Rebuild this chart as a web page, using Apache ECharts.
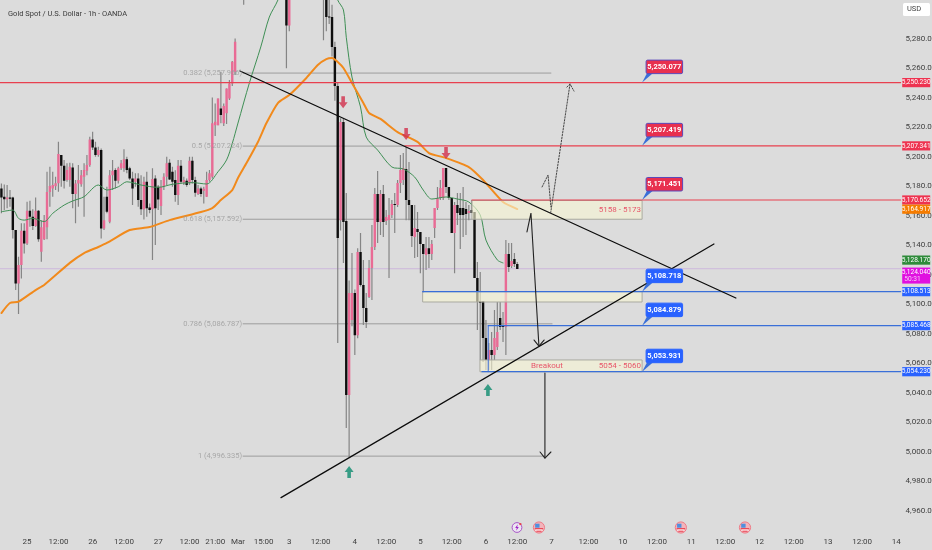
<!DOCTYPE html>
<html><head><meta charset="utf-8">
<style>html,body{margin:0;padding:0;background:#dcdcdc}#c{width:932px;height:550px}</style>
<script src="https://cdn.jsdelivr.net/npm/echarts@6/dist/echarts.min.js"></script>
</head><body><div id="c"></div>
<script>
var titleText = 'Gold Spot / U.S. Dollar - 1h - OANDA';
var xTickLabels = ['25','12:00','26','12:00','27','12:00','21:00','Mar','15:00','3','12:00','4','12:00','5','12:00','6','12:00','7','12:00','10','12:00','11','12:00','12','12:00','13','12:00','14'];
var xTickSlots = [9,20,32,43,55,66,75,83,92,101,112,124,135,147,158,170,181,193,206,218,230,242,254,266,278,290,302,314];
var slotCount = 316;
// open, high, low, close
var ohlc = [
[5178.5,5181.9,5161.6,5172.4],[5172.9,5181.2,5163.8,5171.1],[5171.1,5180.8,5165,5172.4],[5172.4,5177.4,5166.1,5171.5],
[5172.4,5172.9,5144.6,5150.3],[5150.3,5150.3,5109.6,5114.1],[5114.1,5132.2,5093.3,5126.5],[5126.5,5154.8,5117.5,5149.8],
[5149.8,5154.8,5134.4,5141.2],[5141.2,5169.5,5140.1,5163.4],[5163.4,5170.1,5152.5,5159.3],[5159.3,5164.3,5150.3,5153],
[5153,5172.4,5152.5,5163.4],[5163.4,5163.8,5142.4,5144],[5135.6,5157,5128.8,5152.1],[5144,5160.4,5143.5,5157],
[5152.1,5189.8,5144,5176],[5176,5193.2,5166.1,5180.1],[5178.5,5189.8,5172.9,5180.8],[5180,5186.4,5177.4,5182],
[5182,5210.2,5176.3,5201.8],[5201.1,5201.1,5179.6,5193.9],[5193.9,5197.7,5178.5,5183.7],[5184.2,5195.5,5183,5191],
[5184.2,5195.9,5179.6,5193.2],[5192.7,5195.5,5165,5174.7],[5174.7,5184.2,5154.8,5181.9],[5181.9,5194.3,5166.1,5184.2],
[5181.4,5191,5179.6,5187.5],[5186.4,5195.5,5159.3,5191],[5190.5,5201.1,5187.5,5194.3],[5194.3,5213.5,5193.2,5211.7],
[5211.7,5217,5204.5,5206.3],[5206.3,5210.2,5200,5201.1],[5201.1,5206.8,5200,5204.5],[5204.5,5205.6,5144.6,5151.4],
[5151.4,5172.9,5150.3,5157],[5172.9,5179.6,5161.6,5162.7],[5155.9,5191,5154.8,5187.5],[5187.5,5197.7,5177.4,5190.5],
[5191,5192.1,5178.5,5183.7],[5183.7,5193.2,5181.9,5192.1],[5192.1,5197.7,5191,5195.5],[5192.1,5205,5189.8,5198.2],
[5198.2,5200,5188.7,5191],[5192.1,5193.2,5184.2,5185.3],[5185.3,5189.8,5167.2,5178.5],[5183,5188.7,5179.6,5185.3],
[5185.3,5188.7,5166.1,5170.6],[5170.6,5187.5,5160.4,5164.3],[5164.3,5186.4,5157.5,5183],[5183,5189.8,5159.3,5165],
[5165.6,5168.3,5161.6,5163.8],[5164.3,5192.1,5130,5184.8],[5185.3,5187.5,5140.1,5165],[5179.6,5180.8,5163.8,5171],
[5166.5,5184.2,5160.4,5179.6],[5179.6,5188.7,5177.4,5186.4],[5186.4,5200,5180.8,5195.5],[5195.9,5198.2,5184.2,5184.6],
[5189.8,5193.2,5179.6,5183],[5184.2,5190.9,5169.5,5174],[5174,5197.7,5167.2,5193.9],[5193.9,5197.7,5181.9,5183],
[5182.4,5186.4,5180.8,5184.2],[5183.7,5185.3,5179.6,5180.8],[5182.4,5200,5180.8,5197.3],[5197.3,5200,5181.9,5184.2],
[5184.2,5186.4,5172.9,5175.6],[5174.7,5180.8,5174,5178.5],[5178.5,5179.6,5172.9,5174.7],[5177,5179.6,5168.3,5178.3],
[5172.9,5189.8,5172.9,5184.2],[5184.2,5191,5183,5188.7],[5186.4,5240.2,5185.3,5222.6],[5221.4,5236.1,5214,5223.7],
[5221.4,5239.5,5221.4,5239.5],[5232.7,5257.6,5222.6,5228.2],[5222.6,5236.1,5220.8,5234.3],[5229.4,5246.3,5222.1,5246.3],
[5239.5,5252,5238.4,5249.7],[5249.7,5264.8,5247.9,5264.4],[5257.6,5280.2,5255.4,5278],
[5325,5345,5312,5340],[5340,5350,5320,5330],[5330,5342,5303,5322],[5322,5350,5315,5345],[5345,5380,5340,5370],
[5370,5395,5360,5385],[5385,5410,5375,5400],[5400,5420,5385,5395],[5395,5405,5370,5380],[5380,5400,5365,5390],
[5390,5395,5350,5360],[5360,5385,5350,5375],[5375,5390,5340,5350],[5350,5370,5335,5345],[5345,5360,5325,5330],
[5330,5350,5315,5320],[5320,5340,5310,5315],[5315,5325,5260,5289],[5289,5330,5285,5325],
[5325,5345,5315,5340],[5340,5365,5330,5350],[5350,5372,5338,5345],[5345,5360,5325,5330],[5330,5365,5322,5360],
[5360,5385,5350,5375],[5375,5390,5345,5350],[5350,5368,5335,5360],[5360,5372,5330,5340],[5340,5355,5320,5345],[5345,5350,5318,5325],
[5325,5345,5279,5312],[5312,5335,5285,5294.7],[5295,5310,5290,5294.7],[5294.7,5303,5268,5274.4],[5274.4,5278,5238,5247.9],
[5247.9,5250,5073.7,5144.8],[5157,5226,5150,5223.5],[5223.5,5226,5128,5155.7],[5156.4,5175.4,5016,5038.4],[5038.4,5116,4996.4,5107.6],
[5089.3,5134.7,5085,5107.6],[5107.6,5110,5065.5,5079],[5079,5138,5077,5135.4],[5135.4,5148.2,5112,5113],[5113,5130,5085.9,5097.4],
[5097.4,5107.6,5083.9,5088],[5104.9,5130,5104.2,5124.5],[5124.5,5153.7,5102.8,5138.8],[5138.8,5178.8,5136.7,5174.7],[5174.7,5190.3,5141.5,5155.7],
[5155.7,5177.4,5147,5174.7],[5174.7,5180.8,5145.6,5155.7],[5156.4,5163.8,5153.7,5159.1],[5157.1,5172,5117.7,5160.5],[5160.5,5170.6,5158.4,5168],
[5168,5175.4,5148.2,5167.2],[5167.2,5184.2,5165.9,5182.2],[5182.2,5201.1,5175.4,5191],[5184.2,5202.5,5180.8,5192.3],[5191.7,5206.6,5157,5170.6],
[5170.6,5196.4,5157,5167.2],[5167.2,5167.2,5138.8,5146.2],[5145.5,5167.2,5131.3,5151.7],[5151,5162.5,5132,5149],[5149,5149,5121,5140.8],
[5140.8,5140.8,5107.6,5134],[5133.3,5145.5,5123.2,5138],[5138,5145.5,5124.5,5134],[5134,5143.5,5130,5140.8],[5151.7,5165.2,5144.9,5165.2],
[5165.2,5179.5,5163.8,5172],[5172,5184.2,5170.6,5178.8],[5172,5192.3,5170.6,5192.3],[5192.3,5192.3,5175.4,5179.5],[5179.5,5179.5,5170.6,5172],
[5172,5172,5148.2,5148.2],[5148.2,5169.3,5121,5167.2],[5167.2,5175.4,5153.7,5161.8],[5165.2,5175.4,5137.4,5160.5],[5165.2,5179.5,5145.6,5160.5],
[5164.5,5169.3,5147,5161.1],[5161.8,5167.2,5157,5163.2],[5163.9,5170.6,5161.8,5161.8],[5162.5,5162.5,5117.8,5117.8],[5117.8,5128.6,5082.5,5101.5],
[5102.2,5121.8,5062.2,5100.8],[5102.2,5102.2,5060.8,5077.1],[5077.1,5089.3,5055.4,5062.2],[5062.2,5073.7,5055.4,5068.9],[5068.9,5081.1,5055.4,5065.5],
[5065.5,5096,5062.2,5077.1],[5071,5101.5,5068.9,5081.1],[5090.6,5101.5,5082.5,5084.5],[5085.9,5094.7,5074.4,5084.5],[5084.5,5143.5,5065.5,5134],
[5134,5141.5,5121.8,5125.2],[5125.9,5141.5,5124.5,5129.3],[5130.6,5134.7,5125.2,5127.2],[5127.2,5128.6,5123.8,5123.8]
];
// moving averages: [bar slot, price]
var orangeMA = [[0,5094],[3,5100.8],[6,5101.7],[12,5109.6],[15,5113],[24,5128],[29,5134.7],[34,5138.8],[37,5141.5],[45,5150.3],[52,5152.3],[59,5157],[70,5162.5],[74,5165.2],[77,5170.6],[81,5177.4],[83,5185.6],[86,5195.7],[90,5210],[93,5222.8],[97,5236.4],[101,5241.8],[107,5253.4],[111,5262.2],[114,5266.2],[116,5266.9],[118,5264.2],[120,5260.1],[123,5250],[127,5236.4],[129,5229.6],[133,5225.6],[139,5216.7],[146,5210],[150,5202.5],[156,5199.1],[164,5193],[169,5184.2],[176,5169.3],[181,5164.5]];
var greenMA = [[0,5162.7],[4,5163.8],[6,5158.2],[8,5157],[11,5158.2],[15,5156],[18,5161.6],[22,5167.2],[25,5170],[29,5172.9],[34,5180.8],[37,5177.4],[41,5179.6],[44,5183],[49,5180.8],[55,5179.2],[60,5181.3],[67,5182.4],[72,5181.5],[76,5189.8],[79,5197.8],[81,5209],[83,5222.8],[87,5250],[91,5274.4],[94,5294.7],[97,5306.2],[100,5325],[105,5345],[110,5340],[115,5325],[118,5306.2],[120,5299.5],[121,5281],[123,5254],[126,5233.7],[128,5213.3],[132,5204.5],[137,5193],[141,5191.7],[145,5186.2],[148,5177.4],[151,5171.3],[156,5172.7],[160,5171.3],[164,5169.3],[168,5160.5],[170,5143.5],[174,5130],[176,5128]];
// drawings: [bar units, price]
var trendLines = [[[84.2,5258.1],[258.2,5104.2]],[[98.6,4968.9],[250.5,5140.8]]];
var arrowLines = [[[184.9,5149],[186.3,5161.8],[189.1,5071.6]],[[187.4,5075.7],[189.1,5071.6],[190.9,5075.7]],[[191.2,5053.3],[191.2,4995.7]],[[189.5,4999.8],[191.2,4995.7],[193.3,4999.8]]];
var dottedLines = [[[193.2,5161.8],[200,5249.3]],[[198.9,5247.2],[200,5249.3],[201.4,5244.5]],[[190.2,5179.5],[192.3,5187.6],[193.3,5165.9]]];
var redLevels = [[0,5250.23],[142.1,5207.341],[165.6,5170.652]];
var blueLevels = [[148.3,5108.513],[171.3,5085.468],[169.1,5054.23]];
var currentPrice = 5124.04;
var fibLevels = [['0.382 (5,257.966)',5256.7,193.3],['0.5 (5,207.224)',5207.2,142.1],['0.618 (5,157.592)',5157.6,165.6],['0.786 (5,086.787)',5086.7,193.7],['1 (4,996.335)',4997,191.2]];
var zones = [[165.6,5170.3,225.3,5157.6],[148.3,5108.5,225.3,5101.5],[168.4,5062.2,225.3,5054.2]];
var zoneTexts = [['5158 - 5173',224.9,5163.8],['5054 - 5060',224.9,5058.1]];
var breakoutText = ['Breakout',191.9,5058.1];
var callouts = [['5,250.077',5250.23,'r'],['5,207.419',5207.341,'r'],['5,171.451',5170.652,'r'],['5,108.718',5108.513,'b'],['5,084.879',5085.468,'b'],['5,053.931',5054.23,'b']];
var calloutBar = 225.3;
var priceTags = [['5,250.230',5250.23,'#ee3350'],['5,207.341',5207.341,'#ee3350'],['5,170.652',5170.652,'#ee3350'],['5,164.917',5164.4,'#f57c00'],['5,128.170',5129.9,'#2e8b3a'],['5,108.513',5108.513,'#2962ff'],['5,085.468',5085.468,'#2962ff'],['5,054.230',5054.23,'#2962ff']];
var magentaTag = ['5,124.040','50:31',5119.4];
var downMarks = [[120.4,5237],[142.5,5215.4],[156.5,5202.5]];
var upMarks = [[122.5,4986.2],[171.2,5041.8]];
var flagBars = [189.1,238.9,261.4];
var boltBar = 181.4;

var tickByslot = {};
xTickSlots.forEach(function(s,i){tickByslot[s]=xTickLabels[i];});
var categories = [];
for (var i=0;i<slotCount;i++) categories.push(tickByslot[i]||'');
var FONT = 'Roboto, "Liberation Sans", sans-serif';

function lineSeries(pts,color,width,type,z,smooth,xi){
  return {type:'line',data:pts,xAxisIndex:xi==null?1:xi,yAxisIndex:0,showSymbol:false,symbol:'none',smooth:smooth||false,
    lineStyle:{color:color,width:width,type:type||'solid',cap:'round'},z:z,silent:true,animation:false,clip:true};
}
var series = [];
// zones
series.push({type:'custom',xAxisIndex:1,yAxisIndex:0,z:5,silent:true,animation:false,clip:true,data:zones,
  encode:{x:[0,2],y:[1,3]},
  renderItem:function(p,api){
    var a=api.coord([api.value(0),api.value(1)]),b=api.coord([api.value(2),api.value(3)]);
    return {type:'rect',shape:{x:a[0],y:a[1],width:b[0]-a[0],height:b[1]-a[1]},
      style:{fill:'rgba(247,245,212,0.62)',stroke:'#a9a9a0',lineWidth:1}};
  }});
// fib lines
fibLevels.forEach(function(f){ series.push(lineSeries([[85.3,f[1]],[f[2],f[1]]],'#9c9c9c',1,'solid',2)); });
// current price
series.push(lineSeries([[0,currentPrice],[316,currentPrice]],'#cdb8dc',1,'solid',2));
// candles
series.push({type:'custom',xAxisIndex:0,yAxisIndex:0,z:3,silent:true,animation:false,clip:true,
  data:ohlc.map(function(r,i){return [i,r[0],r[1],r[2],r[3]];}),
  encode:{x:0,y:[1,2,3,4]},
  renderItem:function(p,api){
    var i=api.value(0),o=api.value(1),h=api.value(2),l=api.value(3),c=api.value(4);
    var x=api.coord([i,o])[0],yo=api.coord([i,o])[1],yc=api.coord([i,c])[1],yh=api.coord([i,h])[1],yl=api.coord([i,l])[1];
    var up=c>=o,top=Math.min(yo,yc),bh=Math.max(Math.abs(yo-yc),1);
    return {type:'group',children:[
      {type:'line',shape:{x1:x,y1:yh,x2:x,y2:yl},style:{stroke:'#858585',lineWidth:1.2}},
      {type:'rect',shape:{x:x-1.2,y:top,width:2.4,height:bh},style:{fill:up?'#e96b95':'#0e0e0e'}}
    ]};
  }});
series.push(lineSeries(greenMA,'#3f8f55',1,'solid',4,0.3,0));
series.push(lineSeries(orangeMA,'#f18a1c',2,'solid',4,0.2,0));
// levels
redLevels.forEach(function(l){ series.push(lineSeries([[l[0],l[1]],[316,l[1]]],'#e8404f',1.2,'solid',6)); });
blueLevels.forEach(function(l){ series.push(lineSeries([[l[0],l[1]],[316,l[1]]],'#3a6fd8',1.2,'solid',6)); });
series.push(lineSeries([[blueLevels[1][0],blueLevels[1][1]],[blueLevels[1][0],blueLevels[2][1]]],'#3a6fd8',1,'solid',6));
// drawings
trendLines.forEach(function(t){ series.push(lineSeries(t,'#0c0c0c',1.3,'solid',7)); });
arrowLines.forEach(function(t){ series.push(lineSeries(t,'#222222',1.1,'solid',7)); });
dottedLines.forEach(function(t){ series.push(lineSeries(t,'#444444',1,[1.5,1.5],7)); });
// arrow marks
series.push({type:'scatter',xAxisIndex:1,yAxisIndex:0,z:8,silent:true,animation:false,data:downMarks,
  symbol:'path://M3 0H7V6H10L5 12L0 6H3Z',symbolSize:[9,12],itemStyle:{color:'#d2304c'}});
series.push({type:'scatter',xAxisIndex:1,yAxisIndex:0,z:8,silent:true,animation:false,data:upMarks,
  symbol:'path://M5 0L10 6H7V12H3V6H0Z',symbolSize:[9,12],itemStyle:{color:'#0f8c6f'}});
// fib & zone text
series.push({type:'scatter',xAxisIndex:1,yAxisIndex:0,z:9,silent:true,animation:false,symbolSize:0,
  data:fibLevels.map(function(f){return {value:[85.3,f[1]],name:f[0]};}),
  label:{show:true,position:'left',distance:1,formatter:'{b}',color:'#9a9a9a',fontSize:7.5,fontFamily:FONT}});
series.push({type:'scatter',xAxisIndex:1,yAxisIndex:0,z:9,silent:true,animation:false,symbolSize:0,
  data:zoneTexts.map(function(f){return {value:[f[1],f[2]],name:f[0]};}),
  label:{show:true,position:'left',distance:0,formatter:'{b}',color:'#e6304e',fontSize:8,fontFamily:FONT}});
series.push({type:'scatter',xAxisIndex:1,yAxisIndex:0,z:9,silent:true,animation:false,symbolSize:0,
  data:[{value:[breakoutText[1],breakoutText[2]],name:breakoutText[0]}],
  label:{show:true,position:'inside',formatter:'{b}',color:'#e6304e',fontSize:8,fontFamily:FONT}});
// callouts
series.push({type:'custom',xAxisIndex:1,yAxisIndex:0,z:10,silent:true,animation:false,clip:false,
  data:callouts.map(function(c){return [calloutBar,c[1],c[0],c[2]];}),
  encode:{x:0,y:1},
  renderItem:function(p,api){
    var t=api.coord([api.value(0),api.value(1)]),x=t[0],y=t[1];
    var d=callouts[p.dataIndex],red=d[2]==='r';
    return {type:'group',children:[
      {type:'polygon',shape:{points:[[x,y],[x+5,y-9.5],[x+11,y-9.5]]},style:{fill:'#3a6fd8'}},
      {type:'rect',shape:{x:x+4,y:y-22.5,width:36.5,height:13.5,r:1.5},style:{fill:red?'#e8304f':'#2962ff',stroke:red?'#5a48bb':'#2962ff',lineWidth:1}},
      {type:'text',style:{x:x+22.2,y:y-15.7,text:d[0],fill:'#fff',font:'bold 7.5px '+FONT,textAlign:'center',textVerticalAlign:'middle'}}
    ]};
  }});
// price tags
series.push({type:'custom',xAxisIndex:1,yAxisIndex:0,z:11,silent:true,animation:false,clip:false,
  data:priceTags.map(function(c){return [316,c[1]];}),
  encode:{x:0,y:1},
  renderItem:function(p,api){
    var t=api.coord([api.value(0),api.value(1)]),d=priceTags[p.dataIndex];
    return {type:'group',children:[
      {type:'rect',shape:{x:t[0]+1.6,y:t[1]-4.6,width:28,height:9.2},style:{fill:d[2]}},
      {type:'text',style:{x:t[0]+15.6,y:t[1],text:d[0],fill:'#fff',font:'6.6px '+FONT,textAlign:'center',textVerticalAlign:'middle'}}
    ]};
  }});
series.push({type:'custom',xAxisIndex:1,yAxisIndex:0,z:11,silent:true,animation:false,clip:false,
  data:[[316,magentaTag[2]]],encode:{x:0,y:1},
  renderItem:function(p,api){
    var t=api.coord([api.value(0),api.value(1)]);
    return {type:'group',children:[
      {type:'rect',shape:{x:t[0]+1.6,y:t[1]-8,width:28,height:16},style:{fill:'#e010e0'}},
      {type:'text',style:{x:t[0]+15.6,y:t[1]-3.7,text:magentaTag[0],fill:'#fff',font:'6.6px '+FONT,textAlign:'center',textVerticalAlign:'middle'}},
      {type:'text',style:{x:t[0]+3.6,y:t[1]+4,text:magentaTag[1],fill:'#f9c8f9',font:'6.6px '+FONT,textAlign:'left',textVerticalAlign:'middle'}}
    ]};
  }});
// event icons
series.push({type:'custom',xAxisIndex:1,yAxisIndex:0,z:11,silent:true,animation:false,clip:false,
  data:flagBars.map(function(b){return [b,5300];}),encode:{x:0},
  renderItem:function(p,api){
    var x=api.coord([api.value(0),5000])[0],y=527.5;
    return {type:'group',children:[
      {type:'circle',shape:{cx:x,cy:y,r:5.6},style:{fill:'#f3b4bb',stroke:'#ef7a86',lineWidth:1}},
      {type:'rect',shape:{x:x-3.8,y:y-3.8,width:4.4,height:4},style:{fill:'#4f8fde'}},
      {type:'rect',shape:{x:x-4.2,y:y+.6,width:8.4,height:1.4},style:{fill:'#e8404f'}},
      {type:'rect',shape:{x:x-3.6,y:y+2,width:7.2,height:1.2},style:{fill:'#ffffff'}},
      {type:'rect',shape:{x:x-2.6,y:y+3.2,width:5.2,height:1},style:{fill:'#e8404f'}}
    ]};
  }});
series.push({type:'custom',xAxisIndex:1,yAxisIndex:0,z:11,silent:true,animation:false,clip:false,
  data:[[boltBar,5300]],encode:{x:0},
  renderItem:function(p,api){
    var x=api.coord([api.value(0),5000])[0],y=527.5;
    return {type:'group',children:[
      {type:'circle',shape:{cx:x,cy:y,r:4.9},style:{fill:'#ece6f2',stroke:'#a855c8',lineWidth:1}},
      {type:'polygon',shape:{points:[[x+.8,y-3.2],[x-1.8,y+.5],[x-.2,y+.5],[x-.8,y+3.2],[x+1.8,y-.6],[x+.2,y-.6]]},style:{fill:'#a020c8'}},
      {type:'circle',shape:{cx:x+3.4,cy:y-3.4,r:1.2},style:{fill:'#e8404f'}}
    ]};
  }});

var chart = echarts.init(document.getElementById('c'),null,{renderer:'canvas'});
chart.setOption({
  animation:false,
  backgroundColor:'#dcdcdc',
  textStyle:{fontFamily:FONT},
  title:{text:titleText,left:3,top:5,textStyle:{fontSize:7.5,fontWeight:'normal',color:'#3a3a3a',fontFamily:FONT}},
  grid:{left:0,right:31.4,top:0,bottom:9.8,containLabel:false,outerBoundsMode:'none'},
  xAxis:[
    {type:'category',data:categories,boundaryGap:true,axisLine:{show:false},axisTick:{show:false},splitLine:{show:false},
      axisLabel:{interval:0,margin:-2,fontSize:8,color:'#404040',hideOverlap:false,fontFamily:FONT,showMinLabel:true,showMaxLabel:true}},
    {type:'value',min:0,max:316,show:false}
  ],
  yAxis:[{type:'value',position:'right',min:4940,max:5306.24,interval:20,scale:true,
    axisLine:{show:false},axisTick:{show:false},splitLine:{show:false},
    axisLabel:{margin:5,fontSize:8,color:'#404040',fontFamily:FONT,showMinLabel:false,showMaxLabel:false,
      formatter:function(v){ if(v<4960||v>5280||Math.round(v)%20!==0) return ''; return v.toLocaleString('en-US',{minimumFractionDigits:3,maximumFractionDigits:3}); }}}],
  graphic:[{type:'group',z:20,children:[
    {type:'rect',x:903,y:3,shape:{width:27,height:13,r:1.5},style:{fill:'#ffffff'}},
    {type:'text',x:907,y:5.5,style:{text:'USD',fill:'#444',font:'7.5px '+FONT}}
  ]}],
  series:series
});
</script></body></html>
